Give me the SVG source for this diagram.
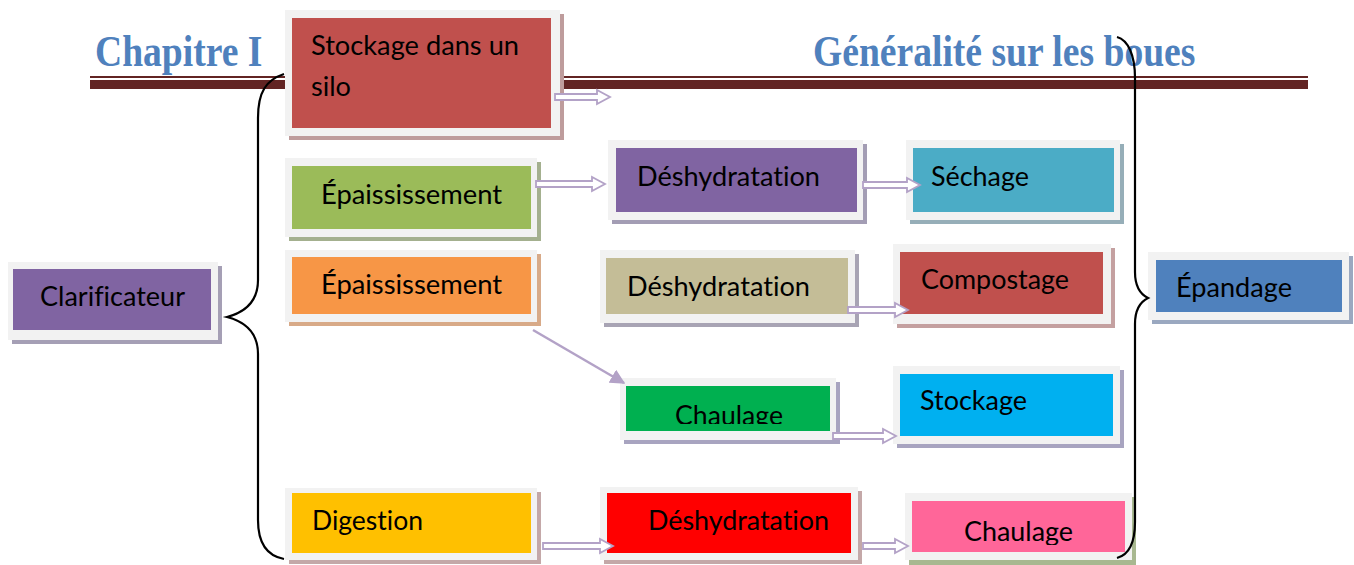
<svg xmlns="http://www.w3.org/2000/svg" width="1354" height="565" viewBox="0 0 1354 565">
  <style>
    .title { font-family: "Liberation Serif", "Times New Roman", serif; font-weight: bold; font-size: 37.6px; fill: #4F81BD; }
    .frame { fill: #F2F2F2; }
    .label { font-family: Lato, "Liberation Sans", sans-serif; font-size: 26px; fill: #000; font-variant-ligatures: none; }
    .brace { fill: none; stroke: #000; stroke-width: 2.2; }
    .flow { fill: #FFFFFF; stroke: #B3A2C7; stroke-width: 1.8; stroke-linejoin: miter; }
    .diag { stroke: #B3A2C7; stroke-width: 2.5; fill: none; }
  </style>
  <defs>
    <marker id="tri" viewBox="0 0 10 10" refX="9" refY="5" markerWidth="6" markerHeight="6" markerUnits="strokeWidth" orient="auto">
      <path d="M0,0 L10,5 L0,10 Z" fill="#B3A2C7"/>
    </marker>
    <clipPath id="clipChaulage1"><rect x="620" y="380" width="220" height="44"/></clipPath>
    <clipPath id="clipChaulage2"><rect x="905" y="495" width="230" height="50"/></clipPath>
  </defs>

  <rect width="1354" height="565" fill="#FFFFFF"/>

  <!-- page header -->
  <g id="header">
    <text class="title" transform="translate(95,66) scale(1,1.15)">Chapitre I</text>
    <text class="title" transform="translate(813,66) scale(1,1.15)">Généralité sur les boues</text>
    <rect x="90" y="76" width="1218" height="2" fill="#622423"/>
    <rect x="90" y="80" width="1218" height="9" fill="#622423"/>
  </g>

  <!-- nodes -->
  <g id="n-silo">
    <rect x="289" y="14" width="275" height="126" fill="#BE9C9C"/>
    <rect class="frame" x="285" y="10" width="275" height="126"/>
    <rect x="292" y="18" width="259" height="110" fill="#C0504D"/>
    <text class="label" x="311" y="55" textLength="208" lengthAdjust="spacingAndGlyphs">Stockage dans un</text>
    <text class="label" x="311" y="96" textLength="40" lengthAdjust="spacingAndGlyphs">silo</text>
  </g>

  <g id="n-epaiss1">
    <rect x="289" y="162" width="252" height="79" fill="#A4B08F"/>
    <rect class="frame" x="285" y="158" width="252" height="79"/>
    <rect x="292" y="166" width="239" height="63" fill="#9BBB59"/>
    <text class="label" x="321" y="204" textLength="181" lengthAdjust="spacingAndGlyphs">Épaississement</text>
  </g>

  <g id="n-deshy1">
    <rect x="612" y="144" width="255" height="80" fill="#A39DB4"/>
    <rect class="frame" x="608" y="140" width="255" height="80"/>
    <rect x="616" y="148" width="241" height="64" fill="#8064A2"/>
    <text class="label" x="637" y="186" textLength="183" lengthAdjust="spacingAndGlyphs">Déshydratation</text>
  </g>

  <g id="n-sechage">
    <rect x="910" y="144" width="214" height="80" fill="#96AEB8"/>
    <rect class="frame" x="906" y="140" width="214" height="80"/>
    <rect x="913" y="148" width="201" height="64" fill="#4BACC6"/>
    <text class="label" x="931" y="186" textLength="98" lengthAdjust="spacingAndGlyphs">Séchage</text>
  </g>

  <g id="n-epaiss2">
    <rect x="289" y="254" width="252" height="72" fill="#D8AA88"/>
    <rect class="frame" x="285" y="250" width="252" height="72"/>
    <rect x="292" y="257" width="239" height="57" fill="#F79646"/>
    <text class="label" x="321" y="294" textLength="181" lengthAdjust="spacingAndGlyphs">Épaississement</text>
  </g>

  <g id="n-deshy2">
    <rect x="604" y="254" width="255" height="73" fill="#A8A4B4"/>
    <rect class="frame" x="600" y="250" width="255" height="73"/>
    <rect x="606" y="258" width="242" height="56" fill="#C4BD97"/>
    <text class="label" x="627" y="296" textLength="183" lengthAdjust="spacingAndGlyphs">Déshydratation</text>
  </g>

  <g id="n-compostage">
    <rect x="897" y="248" width="218" height="80" fill="#C4A0A0"/>
    <rect class="frame" x="893" y="244" width="218" height="80"/>
    <rect x="900" y="252" width="203" height="62" fill="#C0504D"/>
    <text class="label" x="921" y="289" textLength="148" lengthAdjust="spacingAndGlyphs">Compostage</text>
  </g>

  <g id="n-chaulage1">
    <rect x="624" y="382" width="216" height="62" fill="#A8A4C0"/>
    <rect class="frame" x="620" y="378" width="216" height="62"/>
    <rect x="626" y="386" width="204" height="45" fill="#00B050"/>
    <text class="label" x="675" y="425" textLength="108" lengthAdjust="spacingAndGlyphs" clip-path="url(#clipChaulage1)">Chaulage</text>
  </g>

  <g id="n-stockage">
    <rect x="897" y="370" width="227" height="78" fill="#A8A4C0"/>
    <rect class="frame" x="893" y="366" width="227" height="78"/>
    <rect x="900" y="374" width="213" height="62" fill="#00B0F0"/>
    <text class="label" x="920" y="410" textLength="107" lengthAdjust="spacingAndGlyphs">Stockage</text>
  </g>

  <g id="n-digestion">
    <rect x="289" y="492" width="252" height="72" fill="#C4A8A8"/>
    <rect class="frame" x="285" y="488" width="252" height="72"/>
    <rect x="292" y="493" width="239" height="60" fill="#FFC000"/>
    <text class="label" x="312" y="530" textLength="111" lengthAdjust="spacingAndGlyphs">Digestion</text>
  </g>

  <g id="n-deshy3">
    <rect x="604" y="491" width="258" height="73" fill="#C4A8A8"/>
    <rect class="frame" x="600" y="487" width="258" height="73"/>
    <rect x="607" y="493" width="244" height="60" fill="#FF0000"/>
    <text class="label" x="648" y="530" textLength="181" lengthAdjust="spacingAndGlyphs">Déshydratation</text>
  </g>

  <g id="n-chaulage2">
    <rect x="909" y="497" width="227" height="68" fill="#A8B890"/>
    <rect class="frame" x="905" y="493" width="227" height="67"/>
    <rect x="912" y="501" width="213" height="51" fill="#FF6699"/>
    <text class="label" x="964" y="541" textLength="109" lengthAdjust="spacingAndGlyphs" clip-path="url(#clipChaulage2)">Chaulage</text>
  </g>

  <g id="n-clarificateur">
    <rect x="12" y="266" width="210" height="78" fill="#A59FB5"/>
    <rect class="frame" x="8" y="262" width="210" height="78"/>
    <rect x="13" y="269" width="198" height="61" fill="#8064A2"/>
    <text class="label" x="40" y="306" textLength="145" lengthAdjust="spacingAndGlyphs">Clarificateur</text>
  </g>

  <g id="n-epandage">
    <rect x="1152" y="256" width="201" height="68" fill="#9AA8C0"/>
    <rect class="frame" x="1148" y="252" width="201" height="68"/>
    <rect x="1156" y="260" width="186" height="52" fill="#4F81BD"/>
    <text class="label" x="1176" y="297" textLength="116" lengthAdjust="spacingAndGlyphs">Épandage</text>
  </g>

  <!-- braces grouping the process lines -->
  <g id="braces">
    <path class="brace" d="M284,74 C266,80 258,92 258,118 L258,280 C258,300 246,312 227,317 C246,322 258,334 258,354 L258,520 C258,545 268,556 284,559"/>
    <path class="brace" d="M1117,37 C1128,40 1135,55 1135,78 L1135,272 C1135,285 1140,294 1148,298 C1140,302 1135,311 1135,324 L1135,522 C1135,545 1128,555 1117,558"/>
  </g>

  <!-- connectors -->
  <g id="connectors">
    <path class="flow" d="M555,94 H597 V90 L610,97 L597,104 V100 H555 Z"/>
    <path class="flow" d="M536,181 H592 V177 L605,184 L592,191 V187 H536 Z"/>
    <path class="flow" d="M863,182 H907 V178 L920,185 L907,192 V188 H863 Z"/>
    <path class="flow" d="M848,307 H895 V303 L908,310 L895,317 V313 H848 Z"/>
    <path class="flow" d="M833,433 H883 V429 L896,436 L883,443 V439 H833 Z"/>
    <path class="flow" d="M543,543 H600 V539 L613,546 L600,553 V549 H543 Z"/>
    <path class="flow" d="M863,543 H895 V539 L908,546 L895,553 V549 H863 Z"/>
    <path class="diag" d="M533,330 L624,383" marker-end="url(#tri)"/>
  </g>
</svg>
